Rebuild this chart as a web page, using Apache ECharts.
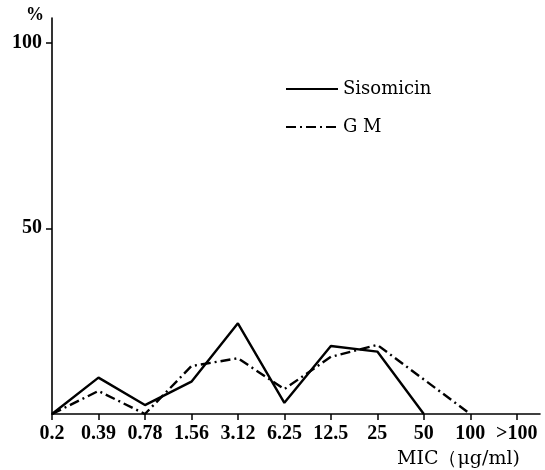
<!DOCTYPE html>
<html><head><meta charset="utf-8">
<script src="https://cdn.jsdelivr.net/npm/echarts@6/dist/echarts.min.js"></script>
<style>html,body{margin:0;padding:0;background:#fff}#c{width:545px;height:470px}</style>
</head><body><div id="c"></div>
<script>
const categories = ['0.2','0.39','0.78','1.56','3.12','6.25','12.5','25','50','100','>100'];
const sisomicin = [0, 9.8, 2.4, 8.7, 24.4, 3.0, 18.3, 16.8, 0, null, null];
const gm = [0, 6.2, 0, 12.9, 15.0, 6.7, 15.4, 18.6, 9.3, 0, null];
const yTicks = [50, 100];

const numFont = '"Liberation Serif", "Times New Roman", serif';
const txtFont = '"DejaVu Serif", "Liberation Serif", serif';
const toPairs = arr => arr.map((v, i) => [i, v]).filter(p => p[1] !== null);
const labelStyle = {color: '#000', fontFamily: numFont, fontSize: 20, fontWeight: 'bold'};

const chart = echarts.init(document.getElementById('c'), null, {renderer: 'canvas'});
chart.setOption({
  backgroundColor: '#fff',
  animation: false,
  grid: {left: 52, right: 5, top: 18, bottom: 56, containLabel: false},
  xAxis: {
    type: 'value', min: 0, max: 10.5, interval: 1,
    splitLine: {show: false},
    axisLine: {lineStyle: {color: '#000', width: 1.6}},
    axisTick: {show: true, length: 6, lineStyle: {color: '#000', width: 1.5},
      customValues: categories.map((c, i) => i)},
    axisLabel: Object.assign({customValues: categories.map((c, i) => i),
      formatter: v => categories[Math.round(v)] || '', margin: 10}, labelStyle)
  },
  yAxis: {
    type: 'value', min: 0, max: 106.6,
    splitLine: {show: false},
    axisLine: {show: true, lineStyle: {color: '#000', width: 1.6}},
    axisTick: {show: true, length: 6, lineStyle: {color: '#000', width: 1.5}, customValues: yTicks},
    axisLabel: Object.assign({customValues: yTicks, margin: 10}, labelStyle)
  },
  legend: {
    orient: 'vertical', left: 280, top: 75, itemWidth: 52, itemHeight: 18, itemGap: 20,
    itemStyle: {opacity: 0},
    textStyle: {color: '#000', fontFamily: txtFont, fontSize: 18, lineHeight: 18},
    data: ['Sisomicin', 'G M']
  },
  graphic: [
    {type: 'text', left: 26, top: 6, style: {text: '%', font: 'bold 18px ' + numFont, fill: '#000'}},
    {type: 'text', left: 397, top: 450, style: {text: 'MIC（μg/ml)', font: '19px ' + txtFont, fill: '#000'}}
  ],
  series: [
    {name: 'Sisomicin', type: 'line', data: toPairs(sisomicin), symbol: 'none',
      lineStyle: {color: '#000', width: 2.4, type: 'solid'}, itemStyle: {color: '#000'}},
    {name: 'G M', type: 'line', data: toPairs(gm), symbol: 'none',
      lineStyle: {color: '#000', width: 2.4, type: [10, 4, 2, 4]}, itemStyle: {color: '#000'}}
  ]
});
</script></body></html>
